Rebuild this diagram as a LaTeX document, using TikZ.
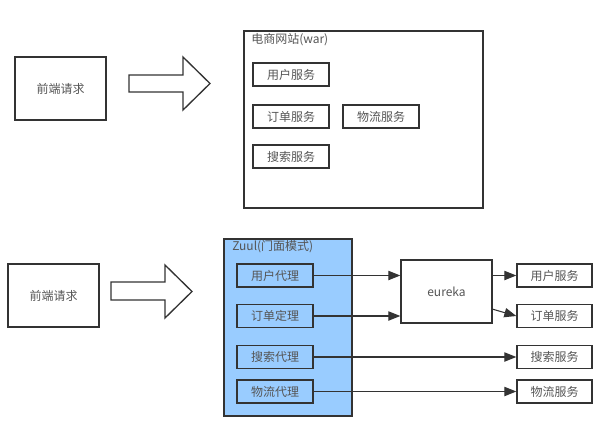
\documentclass[tikz,border=0pt]{standalone}
\usepackage{fontspec}
\newfontfamily\cjk{Noto Sans CJK SC}
\usetikzlibrary{calc, positioning, arrows.meta}
\definecolor{zuulblue}{HTML}{99CCFF}
\definecolor{linegray}{HTML}{333333}
\definecolor{textgray}{HTML}{555555}
\tikzset{
  box/.style={draw=linegray, line width=1pt, text=textgray, inner sep=0pt,
    font=\cjk\fontsize{9}{11}\selectfont},
  svc/.style={box, minimum width=57pt, minimum height=17.25pt},
  request/.style={box, minimum width=68.25pt, minimum height=47.25pt},
  title/.style={text=textgray, inner sep=0pt, anchor=west,
    font=\cjk\fontsize{9}{11}\selectfont},
  link/.style={draw=linegray, line width=0.8pt, -{Triangle[length=9pt, width=7pt]}},
  bigarrow/.style={draw=linegray, line width=1pt, fill=white, line join=miter}
}

\begin{document}
\begin{tikzpicture}[x=0.75pt, y=-0.75pt]
  \useasboundingbox (0,0) rectangle (599,429);
  % Monolith
  \node[request] (req1) at (60.5,88.5) {前端请求};
  \draw[bigarrow] (129,75) -- (183,75) -- (183,57) -- (210,83.5)
    -- (183,110) -- (183,92) -- (129,92) -- cycle;
  \node[box, minimum width=179.25pt, minimum height=132.75pt] (war) at (363.5,119.5) {};
  \node[title] (wartitle) at (251,40) {电商网站(war)};
  \node[svc] (usersvc) at (291,74.5) {用户服务};
  \node[svc] (ordersvc) at (291,116.5) {订单服务};
  \node[svc] (logsvc) at (381,116.5) {物流服务};
  \node[svc] (searchsvc) at (291,156.5) {搜索服务};
  % Zuul gateway
  \node[request] (req2) at (53.5,295.5) {前端请求};
  \draw[bigarrow] (111,282) -- (165,282) -- (165,265) -- (192,291.5)
    -- (165,318) -- (165,300) -- (111,300) -- cycle;
  \node[box, fill=zuulblue, minimum width=96pt, minimum height=132.75pt] (zuul) at (288,327.5) {};
  \node[title] (zuultitle) at (232,247) {Zuul(门面模式)};
  \node[svc] (userproxy) at (275,275.5) {用户代理};
  \node[svc] (orderproxy) at (275,316) {订单定理};
  \node[svc] (searchproxy) at (275,357) {搜索代理};
  \node[svc] (logproxy) at (275,391.5) {物流代理};
  % Registry
  \node[request] (eureka) at (446.5,291.5) {eureka};
  % Services
  \node[svc, minimum width=56.25pt] (usersvc2) at (554.5,275.5) {用户服务};
  \node[svc, minimum width=56.25pt] (ordersvc2) at (554.5,316) {订单服务};
  \node[svc, minimum width=56.25pt] (searchsvc2) at (554.5,357) {搜索服务};
  \node[svc, minimum width=56.25pt] (logsvc2) at (554.5,391.5) {物流服务};
  % Routing
  \draw[link] (userproxy.east) -- (userproxy.east -| eureka.west);
  \draw[link] (orderproxy.east) -- (orderproxy.east -| eureka.west);
  \draw[link] (eureka.east |- usersvc2.west) -- (usersvc2.west);
  \draw[link] ($(eureka.east)!0.55!(eureka.south east)$) -- (ordersvc2.west);
  \draw[link] (searchproxy.east) -- (searchsvc2.west);
  \draw[link] (logproxy.east) -- (logsvc2.west);
\end{tikzpicture}
\end{document}
